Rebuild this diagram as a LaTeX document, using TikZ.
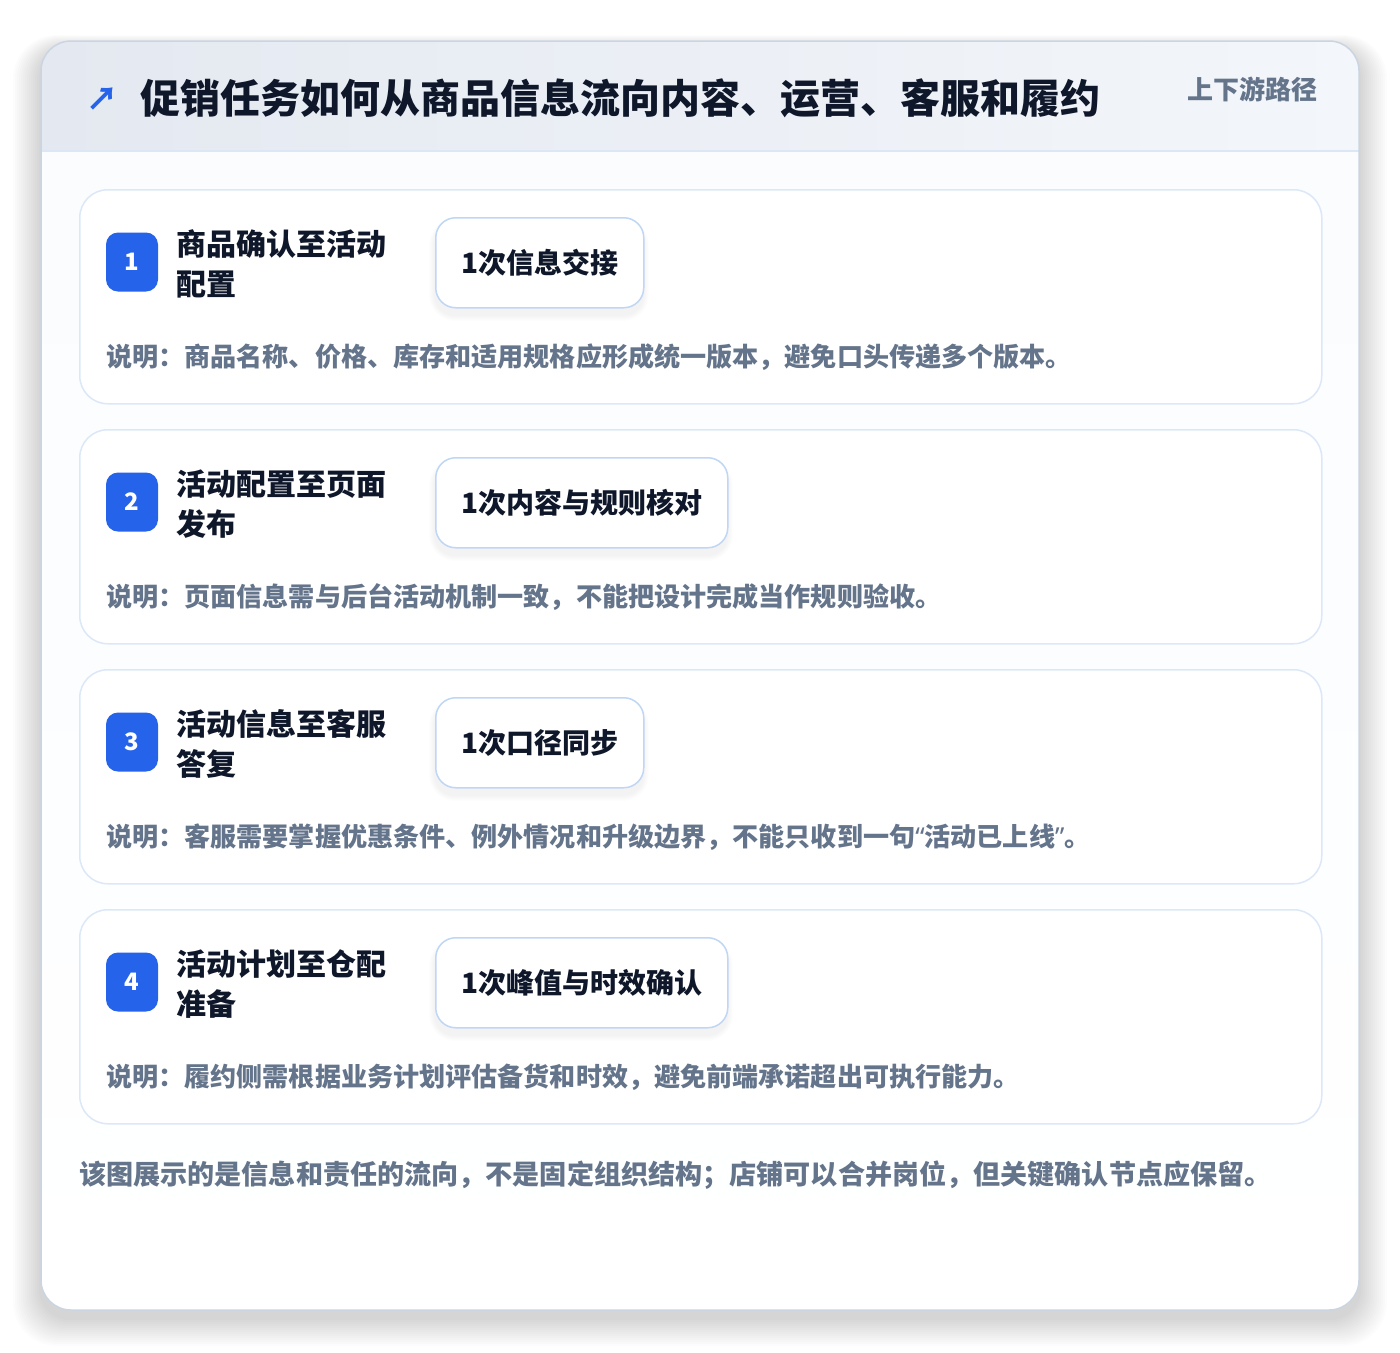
\documentclass[tikz,border=0pt]{standalone}
\usepackage{fontspec}
\setmainfont{Noto Sans CJK SC}
\newfontfamily\latinq{Noto Sans}
\usetikzlibrary{positioning}
\definecolor{outerborder}{HTML}{CBD5E1}
\definecolor{headl}{HTML}{E4E9F1}
\definecolor{headr}{HTML}{F3F6FA}
\definecolor{headline}{HTML}{DBE7F7}
\definecolor{bodybg}{HTML}{FAFCFE}
\definecolor{cardline}{HTML}{DCE8F8}
\definecolor{pillline}{HTML}{BFD6F5}
\definecolor{badgeblue}{HTML}{2563EB}
\definecolor{darktext}{HTML}{0F172A}
\definecolor{muted}{HTML}{64748B}
\tikzset{
  stepcard/.style={draw=cardline, line width=1.5pt, fill=white, rounded corners=28pt},
  badge/.style={fill=badgeblue, rounded corners=12pt, minimum width=52pt, minimum height=59pt, inner sep=0pt,
    text=white, font=\fontsize{24}{26}\selectfont\bfseries},
  steptitle/.style={anchor=west, align=left, inner sep=0pt, text=darktext, font=\fontsize{30}{40}\selectfont\bfseries},
  pill/.style={draw=pillline, line width=1.5pt, fill=white, rounded corners=20pt, minimum height=90pt, inner sep=0pt,
    text=darktext, font=\fontsize{28}{32}\selectfont\bfseries},
  desc/.style={anchor=west, inner sep=0pt, text=muted, font=\fontsize{26.1}{30}\selectfont\bfseries},
}
\begin{document}
\begin{tikzpicture}[x=1pt,y=-1pt]
\useasboundingbox (0,0) rectangle (1400,1352);
\fill[white] (0,0) rectangle (1400,1352);
% outer shadow
\foreach \i in {1,...,14}{
  \fill[black, opacity=0.010, rounded corners=30pt+\i pt] (41-2*\i,41-1*\i+8) rectangle (1359+2*\i,1310+2*\i+8);
}
% outer card
\fill[bodybg, rounded corners=30pt] (41,41) rectangle (1359,1310);
\begin{scope}
  \clip[rounded corners=30pt] (41,41) rectangle (1359,1310);
  \shade[left color=headl, right color=headr] (41,41) rectangle (1359,151);
  \shade[top color=bodybg, bottom color=white] (41,151) rectangle (1359,1310);
\end{scope}
\draw[headline, line width=1.5pt] (41,151) -- (1359,151);
\draw[outerborder, line width=1.5pt, rounded corners=30pt] (41,41) rectangle (1359,1310);
% header
\node[anchor=center, inner sep=0pt, text=badgeblue, font=\fontsize{32}{32}\selectfont\bfseries] (arrow) at (102,99) {↗};
\node[anchor=west, inner sep=0pt, text=darktext, font=\fontsize{40}{48}\selectfont\bfseries] (title) at (140,98) {促销任务如何从商品信息流向内容、运营、客服和履约};
\node[anchor=east, inner sep=0pt, text=muted, font=\fontsize{26}{30}\selectfont\bfseries] (tag) at (1318,89) {上下游路径};
% steps
\foreach \n/\ta/\tb/\pt/\pw/\ds [count=\k from 0] in {
  1/商品确认至活动/配置/1次信息交接/208/说明：商品名称、价格、库存和适用规格应形成统一版本，避免口头传递多个版本。,
  2/活动配置至页面/发布/1次内容与规则核对/292/说明：页面信息需与后台活动机制一致，不能把设计完成当作规则验收。,
  3/活动信息至客服/答复/1次口径同步/208/说明：客服需要掌握优惠条件、例外情况和升级边界，不能只收到一句{\latinq“}活动已上线{\latinq”}。,
  4/活动计划至仓配/准备/1次峰值与时效确认/292/说明：履约侧需根据业务计划评估备货和时效，避免前端承诺超出可执行能力。}{
  \pgfmathsetmacro{\top}{189+240*\k}
  \node[stepcard, minimum width=1242pt, minimum height=214pt, anchor=north west] (card\n) at (79,\top) {};
  \node[badge] (badge\n) at (132,\top+73) {\n};
  \node[steptitle] (st\n) at (176,\top+75) {\ta\\\tb};
  \foreach \j in {1,...,6}{
    \fill[black, opacity=0.008, rounded corners=20pt+\j pt] (435-\j,\top+28-\j+8) rectangle (435+\pw+\j,\top+118+\j+8);
  }
  \node[pill, minimum width=\pw pt, anchor=north west] (pill\n) at (435,\top+28) {\pt};
  \node[desc] (desc\n) at (106,\top+168) {\ds};
}
\node[anchor=west, inner sep=0pt, text=muted, font=\fontsize{27.1}{30}\selectfont\bfseries] (foot) at (79,1175) {该图展示的是信息和责任的流向，不是固定组织结构；店铺可以合并岗位，但关键确认节点应保留。};
\end{tikzpicture}
\end{document}
